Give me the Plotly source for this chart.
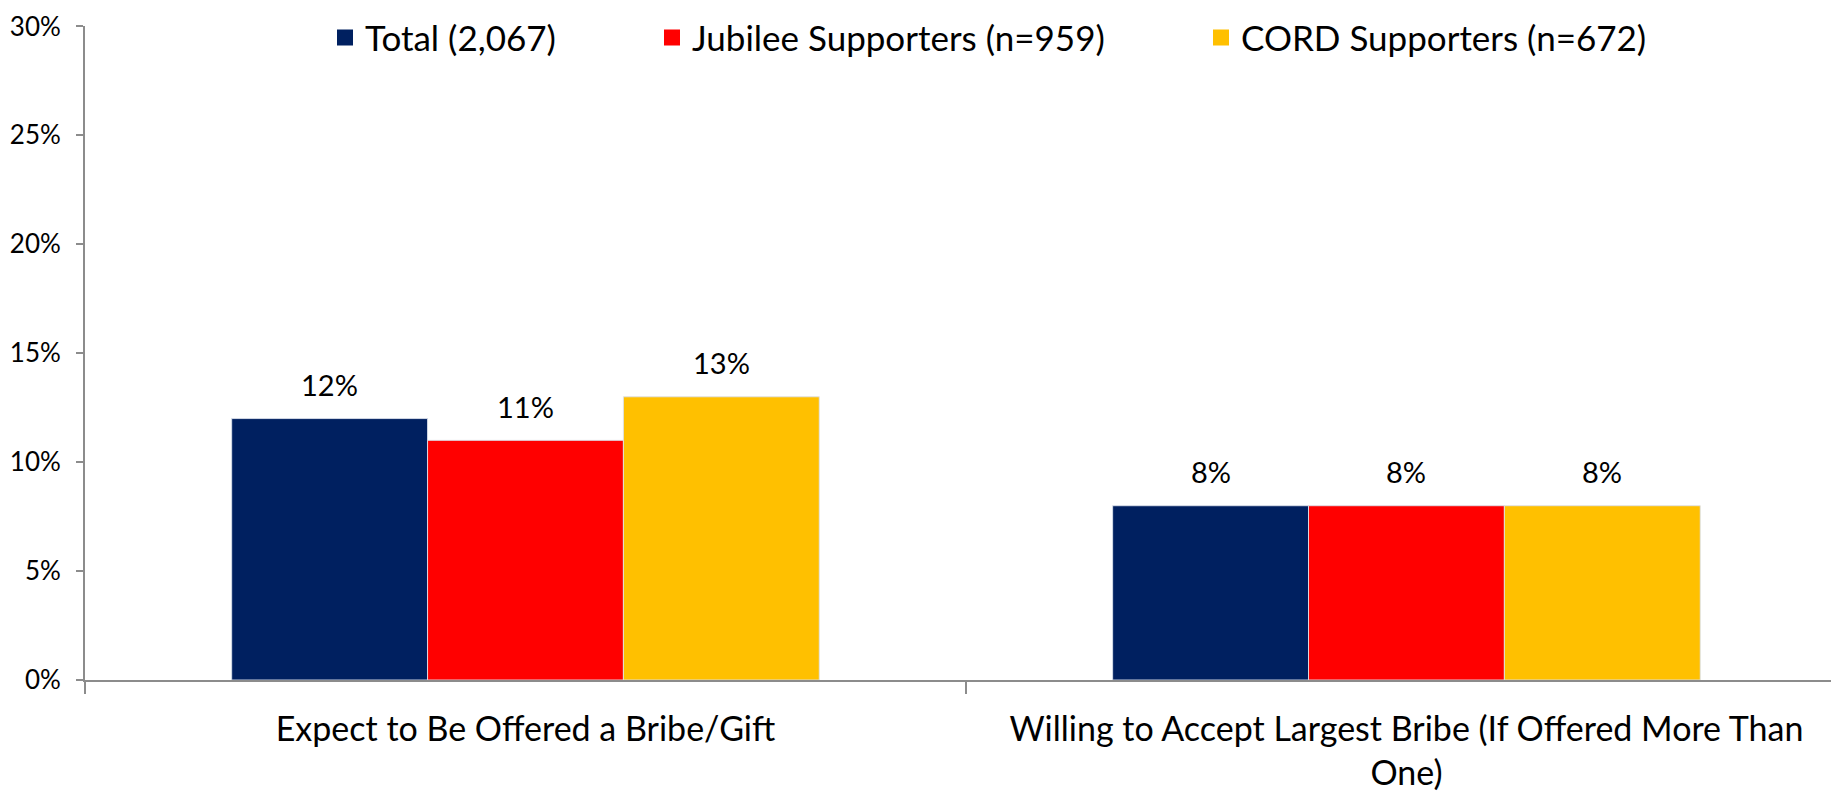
import plotly.graph_objects as go

categories = ["Expect to Be Offered a Bribe/Gift",
              "Willing to Accept Largest Bribe (If Offered More Than<br>One)"]
series_names = ["Total (2,067)", "Jubilee Supporters (n=959)", "CORD Supporters (n=672)"]
total_vals = [12, 8]
jubilee_vals = [11, 8]
cord_vals = [13, 8]
y_ticks = [0, 5, 10, 15, 20, 25, 30]
y_tick_labels = ["0%", "5%", "10%", "15%", "20%", "25%", "30%"]

colors = ["#002060", "#FF0000", "#FFC000"]
OFF = 8  # default page margin around the figure
W, H = 1839 - OFF, 792 - OFF
L, R, T, B = 85 - OFF, 0, 14 - OFF, 112
FONT = "Lato"
BARGAP = 0.333

fig = go.Figure()
legend_text_px = [357, 684, 1233]
legend_names = ["legend", "legend2", "legend3"]
all_vals = [total_vals, jubilee_vals, cord_vals]
for name, vals, col in zip(series_names, all_vals, colors):
    fig.add_trace(go.Bar(
        x=categories, y=vals, name=name, showlegend=False,
        marker=dict(color=col, line=dict(color="rgba(220,225,235,0.9)", width=1)),
        cliponaxis=False,
    ))
# legend entries (square swatches)
for name, col, lg in zip(series_names, colors, legend_names):
    fig.add_trace(go.Scatter(
        x=[None], y=[None], mode="markers", name=name, legend=lg,
        marker=dict(symbol="square", size=20, color=col),
    ))

# data labels above bars
n = len(series_names)
slot = (1 - BARGAP) / n
annotations = []
for j, vals in enumerate(all_vals):
    for i, v in enumerate(vals):
        annotations.append(dict(
            x=i + (j - (n - 1) / 2) * slot, y=v, xref="x", yref="y",
            text=f"{v}%", showarrow=False, yanchor="middle", yshift=34,
            font=dict(family=FONT, size=29, color="#000000"),
        ))

pw = W - L - R
ph = H - T - B
legend_layouts = {}
for lg, tx in zip(legend_names, legend_text_px):
    legend_layouts[lg] = dict(
        x=(tx - 40 - L) / pw, xanchor="left",
        y=1 - (26 - OFF - T) / ph, yanchor="middle",
        orientation="h", font=dict(family=FONT, size=35, color="#000000"),
        bgcolor="rgba(0,0,0,0)", borderwidth=0,
    )

fig.update_layout(
    width=W, height=H,
    margin=dict(l=L, r=R, t=T, b=B),
    paper_bgcolor="white", plot_bgcolor="white",
    barmode="group", bargap=BARGAP, bargroupgap=0,
    font=dict(family=FONT, color="#000000"),
    showlegend=True, annotations=annotations,
    **legend_layouts,
)
fig.update_xaxes(
    range=[-0.5, 1.491], showline=True, linecolor="#8c8c8c", linewidth=2,
    ticks="outside", tickson="boundaries", ticklen=12, tickcolor="#8c8c8c", tickwidth=1.5,
    tickfont=dict(family=FONT, size=34, color="#000000"), showgrid=False,
    automargin=False, ticklabelstandoff=18, ticklabeloverflow="allow",
)
fig.update_yaxes(
    range=[0, 30.02], tickvals=y_ticks, ticktext=y_tick_labels,
    showline=True, linecolor="#8c8c8c", linewidth=2,
    ticks="outside", ticklen=7, tickcolor="#8c8c8c", tickwidth=1.5,
    tickfont=dict(family=FONT, size=26, color="#000000"), showgrid=False, zeroline=False,
    automargin=False, ticklabelstandoff=10, ticklabeloverflow="allow",
)
fig.write_html("out.html")
